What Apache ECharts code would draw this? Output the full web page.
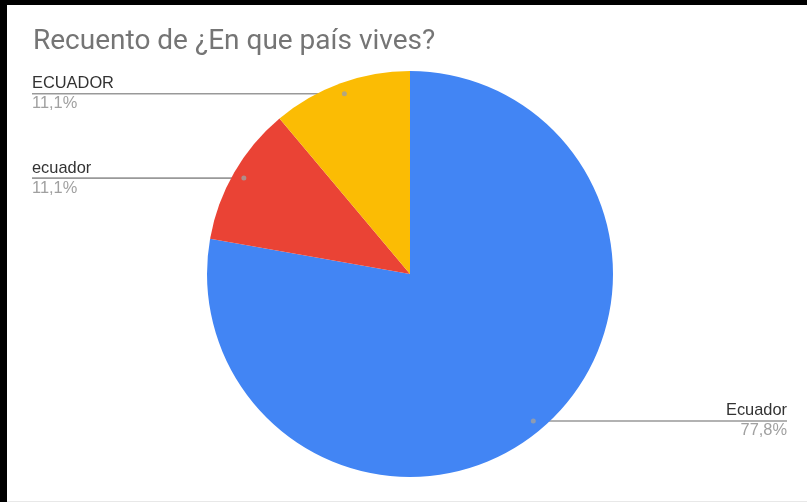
<!DOCTYPE html>
<html>
<head>
<meta charset="utf-8">
<script src="https://cdn.jsdelivr.net/npm/echarts@6/dist/echarts.min.js"></script>
<style>
  html, body { margin: 0; background: #000; }
  #frame { position: absolute; left: 7px; top: 5px; width: 800px; height: 496px; background: #fff; border-bottom: 1px solid #e8e8e8; }
  #chart { position: absolute; left: 12px; top: 0; width: 781px; height: 496px; }
</style>
</head>
<body>
<div id="frame"><div id="chart"></div></div>
<script>
// Responses to "¿En que país vives?"
const titleText = 'Recuento de ¿En que país vives?';
const categories = ['Ecuador', 'ecuador', 'ECUADOR'];
const counts = [7, 1, 1];
const sliceColors = ['#4285f4', '#ea4335', '#fbbc04'];

const CENTER = [391, 269];
const RADIUS = 203;
const DOT_RATIO = 0.945;   // leader lines start a little inside the rim
const TITLE_FONT = 'Roboto, Arial, sans-serif';
const LABEL_FONT = '"Liberation Sans", Arial, sans-serif';

const total = counts.reduce((a, b) => a + b, 0);
const sliceData = categories.map((name, i) => ({ name, value: counts[i] }));

// mid-angle (in count units) of every slice, used for the leader dots
const dotData = [];
let acc = 0;
counts.forEach(v => { dotData.push([DOT_RATIO, acc + v / 2]); acc += v; });

const chart = echarts.init(document.getElementById('chart'));
chart.setOption({
  backgroundColor: '#fff',
  animation: false,
  title: {
    text: titleText,
    left: 14,
    top: 23,
    padding: 0,
    textStyle: { fontFamily: TITLE_FONT, fontSize: 28, fontWeight: 'normal', color: '#757575' }
  },
  polar: { center: CENTER, radius: RADIUS },
  angleAxis: { type: 'value', min: 0, max: total, startAngle: 90, clockwise: true, show: false },
  radiusAxis: { type: 'value', min: 0, max: 1, show: false },
  series: [
    {
      type: 'pie',
      center: CENTER,
      radius: RADIUS,
      startAngle: 90,
      clockwise: true,
      data: sliceData,
      label: { show: false },
      labelLine: { show: false },
      itemStyle: { color: p => sliceColors[p.dataIndex] },
      emphasis: { disabled: true },
      silent: true
    },
    {
      // label carrier: invisible ring whose rim sets where the leader lines begin
      type: 'pie',
      center: CENTER,
      radius: RADIUS * DOT_RATIO,
      startAngle: 90,
      clockwise: true,
      data: sliceData,
      silent: true,
      percentPrecision: 1,
      itemStyle: { color: 'rgba(0,0,0,0)' },
      emphasis: { disabled: true },
      label: {
        show: true,
        position: 'outside',
        alignTo: 'edge',
        edgeDistance: 13,
        distanceToLabelLine: 0,
        fontFamily: LABEL_FONT,
        formatter: p => '{n|' + p.name + '}\n{p|' + p.percent.toFixed(1).replace('.', ',') + '%}',
        rich: {
          n: { fontFamily: LABEL_FONT, fontSize: 16.4, color: '#333', lineHeight: 20 },
          p: { fontFamily: LABEL_FONT, fontSize: 16.4, color: '#a0a0a0', lineHeight: 20 }
        }
      },
      labelLine: {
        show: true,
        length: 0,
        length2: 20,
        lineStyle: { color: '#999', width: 1.6 }
      },
      labelLayout: function (p) {
        const pts = p.labelLinePoints;
        if (!pts) return {};
        const start = pts[0];
        const isLeft = pts[2][0] < start[0];
        const endX = isLeft ? p.labelRect.x : p.labelRect.x + p.labelRect.width;
        return { labelLinePoints: [start, start, [endX, start[1]]] };
      }
    },
    {
      type: 'scatter',
      coordinateSystem: 'polar',
      data: dotData,
      symbolSize: 5,
      itemStyle: { color: '#a0a0a0' },
      silent: true,
      z: 5
    }
  ]
});
</script>
</body>
</html>
